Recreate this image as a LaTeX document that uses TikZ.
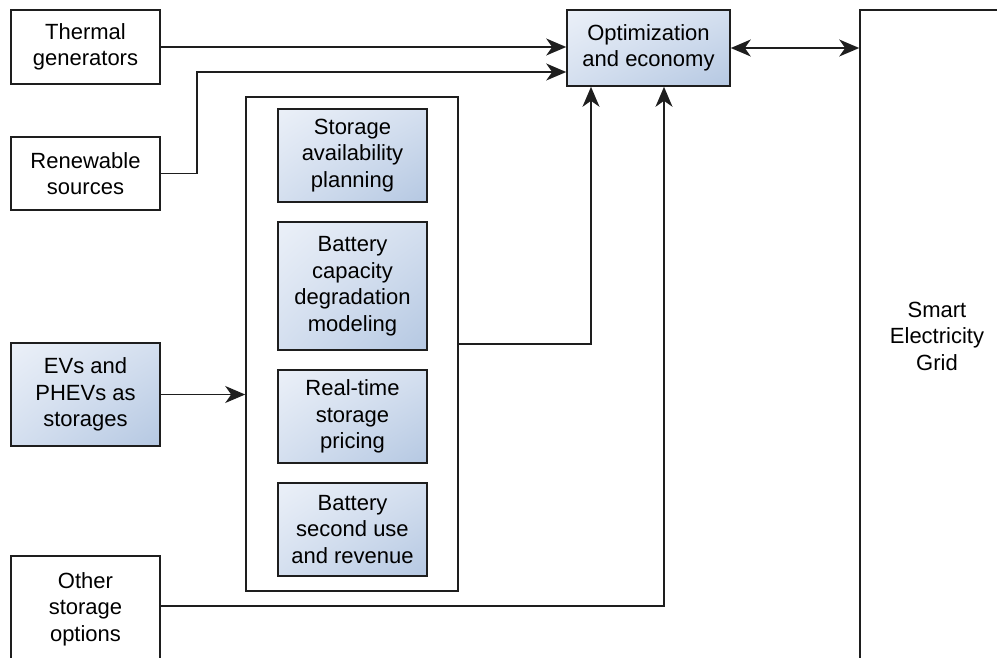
\documentclass[tikz,border=0pt]{standalone}
\usepackage{fontspec}
\setmainfont{Liberation Sans}
\usetikzlibrary{arrows.meta,calc,shadings}

\definecolor{edge}{HTML}{1E1E1E}
\definecolor{shadeA}{HTML}{EBF0F8}
\definecolor{shadeB}{HTML}{D4DFEF}
\definecolor{shadeC}{HTML}{B5C8E2}

\tikzset{
  tip/.tip={Stealth[length=20pt,width=17pt,inset=6pt]},
  box/.style={draw=edge, line width=1.6pt, fill=white, align=center,
    inner sep=0pt, font=\fontsize{22}{26.5}\selectfont},
  bluebox/.style={box, upper left=shadeA, upper right=shadeB,
    lower left=shadeB, lower right=shadeC},
  arr/.style={draw=edge, line width=1.5pt, -tip},
  biarr/.style={draw=edge, line width=1.5pt, tip-tip}
}

\begin{document}
\begin{tikzpicture}[x=1pt,y=-1pt]
\useasboundingbox (0,0) rectangle (997,657);

% sources on the left
\node[box, minimum width=149pt, minimum height=74pt] (th) at (85.5,47) {Thermal\\generators};
\node[box, minimum width=149pt, minimum height=73pt] (rn) at (85.5,173.5) {Renewable\\sources};
\node[bluebox, minimum width=149pt, minimum height=103pt] (ev) at (85.5,394.5) {EVs and\\PHEVs as\\storages};
\node[box, minimum width=149pt, minimum height=106pt] (ot) at (85.5,609) {Other\\storage\\options};

% storage management group
\node[box, minimum width=212pt, minimum height=494pt] (cont) at (352,344) {};
\node[bluebox, minimum width=149pt, minimum height=93pt] (sa) at (352.5,155.5) {Storage\\availability\\planning};
\node[bluebox, minimum width=149pt, minimum height=128pt] (bc) at (352.5,286) {Battery\\capacity\\degradation\\modeling};
\node[bluebox, minimum width=149pt, minimum height=93pt] (rt) at (352.5,416.5) {Real-time\\storage\\pricing};
\node[bluebox, minimum width=149pt, minimum height=93pt] (bs) at (352.5,529.5) {Battery\\second use\\and revenue};

% optimization and grid
\node[bluebox, minimum width=163pt, minimum height=76pt] (op) at (648.5,48) {Optimization\\and economy};
\node[box, minimum width=154pt, minimum height=652pt] (grid) at (937,336) {Smart\\Electricity\\Grid};

% connectors
\draw[arr] (th.east) -- (th.east -| op.west);
\draw[arr] (rn.east) -- ++(36,0) |- ([yshift=-24pt]op.west);
\draw[arr] (cont.east) -| ([xshift=-57.5pt]op.south);
\draw[arr] ([yshift=3pt]ot.east) -| ([xshift=15.5pt]op.south);
\draw[arr] (ev.east) -- (ev.east -| cont.west);
\draw[biarr] (op.east) -- (op.east -| grid.west);
\end{tikzpicture}
\end{document}
